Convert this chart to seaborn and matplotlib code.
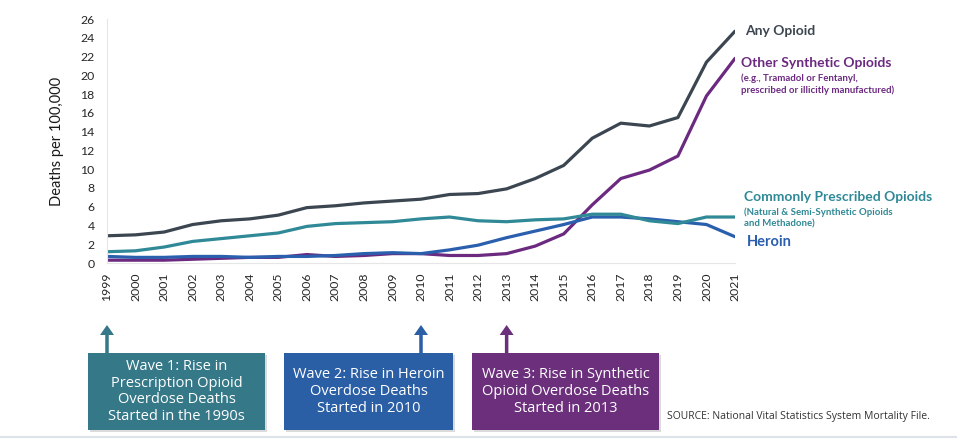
import numpy as np
import pandas as pd
import matplotlib
matplotlib.use("Agg")
import matplotlib.pyplot as plt
import seaborn as sns
from matplotlib.patches import Rectangle, FancyArrow

years = list(range(1999, 2022))
any_opioid = [2.9, 3.0, 3.3, 4.1, 4.5, 4.7, 5.1, 5.9, 6.1, 6.4, 6.6, 6.8, 7.3, 7.4, 7.9, 9.0, 10.4, 13.3, 14.9, 14.6, 15.5, 21.4, 24.7]
other_synthetic = [0.3, 0.3, 0.3, 0.4, 0.5, 0.6, 0.6, 0.9, 0.7, 0.8, 1.0, 1.0, 0.8, 0.8, 1.0, 1.8, 3.1, 6.2, 9.0, 9.9, 11.4, 17.8, 21.8]
commonly_prescribed = [1.2, 1.3, 1.7, 2.3, 2.6, 2.9, 3.2, 3.9, 4.2, 4.3, 4.4, 4.7, 4.9, 4.5, 4.4, 4.6, 4.7, 5.2, 5.2, 4.5, 4.2, 4.9, 4.9]
heroin = [0.7, 0.6, 0.6, 0.7, 0.7, 0.6, 0.7, 0.7, 0.8, 1.0, 1.1, 1.0, 1.4, 1.9, 2.7, 3.4, 4.1, 4.9, 4.9, 4.7, 4.4, 4.1, 2.8]

series_names = ["Other Synthetic Opioids", "Heroin", "Commonly Prescribed Opioids", "Any Opioid"]
series_values = [other_synthetic, heroin, commonly_prescribed, any_opioid]
colors = {"Any Opioid": "#3c4651", "Other Synthetic Opioids": "#6b2a80",
          "Commonly Prescribed Opioids": "#2f8996", "Heroin": "#2a5fae"}

y_ticks = list(range(0, 27, 2))
wave_texts = ["Wave 1: Rise in\nPrescription Opioid\nOverdose Deaths\nStarted in the 1990s",
              "Wave 2: Rise in Heroin\nOverdose Deaths\nStarted in 2010",
              "Wave 3: Rise in Synthetic\nOpioid Overdose Deaths\nStarted in 2013"]
wave_years = [1999, 2010, 2013]
wave_colors = ["#357888", "#2a5fa6", "#6b2f7c"]

df = pd.DataFrame({
    "Year": np.tile(years, len(series_names)),
    "Rate": np.concatenate(series_values),
    "Series": np.repeat(series_names, len(years)),
})

sns.set_style("white")
plt.rcParams["font.family"] = ["Lato", "DejaVu Sans"]

W, H = 957, 440
fig = plt.figure(figsize=(W / 100, H / 100), dpi=100)
ax = fig.add_axes([107 / W, 1 - 263 / H, (735 - 107) / W, (263 - 19) / H])

sns.lineplot(data=df, x="Year", y="Rate", hue="Series", hue_order=series_names,
             palette=colors, linewidth=2.3, legend=False, ax=ax)

ax.set_xlim(1999, 2021)
ax.set_ylim(0, 26)
ax.set_yticks(y_ticks)
ax.set_xticks(years)
ax.set_xticklabels([str(y) for y in years], rotation=90, fontsize=8.8, color="#262626")
ax.set_yticklabels([str(t) for t in y_ticks], fontsize=8.8, color="#262626")
ax.tick_params(axis="x", length=0, pad=7)
ax.tick_params(axis="y", length=0, pad=9)
ax.set_xlabel("")
ax.set_ylabel("Deaths per 100,000", fontsize=10.5, color="#1a1a1a", labelpad=12)
for s in ["top", "right"]:
    ax.spines[s].set_visible(False)
for s in ["left", "bottom"]:
    ax.spines[s].set_color("#e6e6e6")
    ax.spines[s].set_linewidth(0.8)

# overlay in pixel coordinates for annotations
ov = fig.add_axes([0, 0, 1, 1], zorder=-1)
ov.set_xlim(0, W)
ov.set_ylim(H, 0)
ov.axis("off")

def lab(x, y, s, c, size, weight="bold"):
    ov.text(x, y, s, color=c, fontsize=size, fontweight=weight, va="center", ha="left")

lab(745, 31, "Any Opioid", colors["Any Opioid"], 10)
lab(741, 63, "Other Synthetic Opioids", colors["Other Synthetic Opioids"], 10)
lab(741, 78, "(e.g., Tramadol or Fentanyl,", colors["Other Synthetic Opioids"], 6.9)
lab(741, 90, "prescribed or illicitly manufactured)", colors["Other Synthetic Opioids"], 6.9)
lab(744, 197, "Commonly Prescribed Opioids", colors["Commonly Prescribed Opioids"], 10)
lab(744, 212, "(Natural & Semi-Synthetic Opioids", colors["Commonly Prescribed Opioids"], 6.9)
lab(744, 224, "and Methadone)", colors["Commonly Prescribed Opioids"], 6.9)
lab(747, 242, "Heroin", colors["Heroin"], 10.5)

boxes = [(88, 265), (284, 453), (472, 659)]
top, bot = 353, 430
for (x0, x1), txt, yr, c in zip(boxes, wave_texts, wave_years, wave_colors):
    ov.add_patch(Rectangle((x0 + 2, top + 2), x1 - x0, bot - top, color="#999999", alpha=0.35, lw=0))
    ov.add_patch(Rectangle((x0, top), x1 - x0, bot - top, color=c, lw=0))
    ax_x = ax.transData.transform((yr, 0))[0]
    ov.add_patch(FancyArrow(ax_x, top, 0, -(top - 325), width=3.5, head_width=14,
                            head_length=10, length_includes_head=True, color=c, lw=0))
    ov.text((x0 + x1) / 2, (top + bot) / 2, txt, color="white", fontsize=10.5,
            ha="center", va="center", linespacing=1.15, family=["Open Sans", "DejaVu Sans"])

ov.text(667, 417, "SOURCE: National Vital Statistics System Mortality File.", fontsize=7.5,
        color="#333333", va="center", ha="left", family=["Open Sans", "DejaVu Sans"])
ov.plot([0, W], [437.5, 437.5], color="#dde3e8", lw=1.5)

fig.savefig("out.png", dpi=100)
